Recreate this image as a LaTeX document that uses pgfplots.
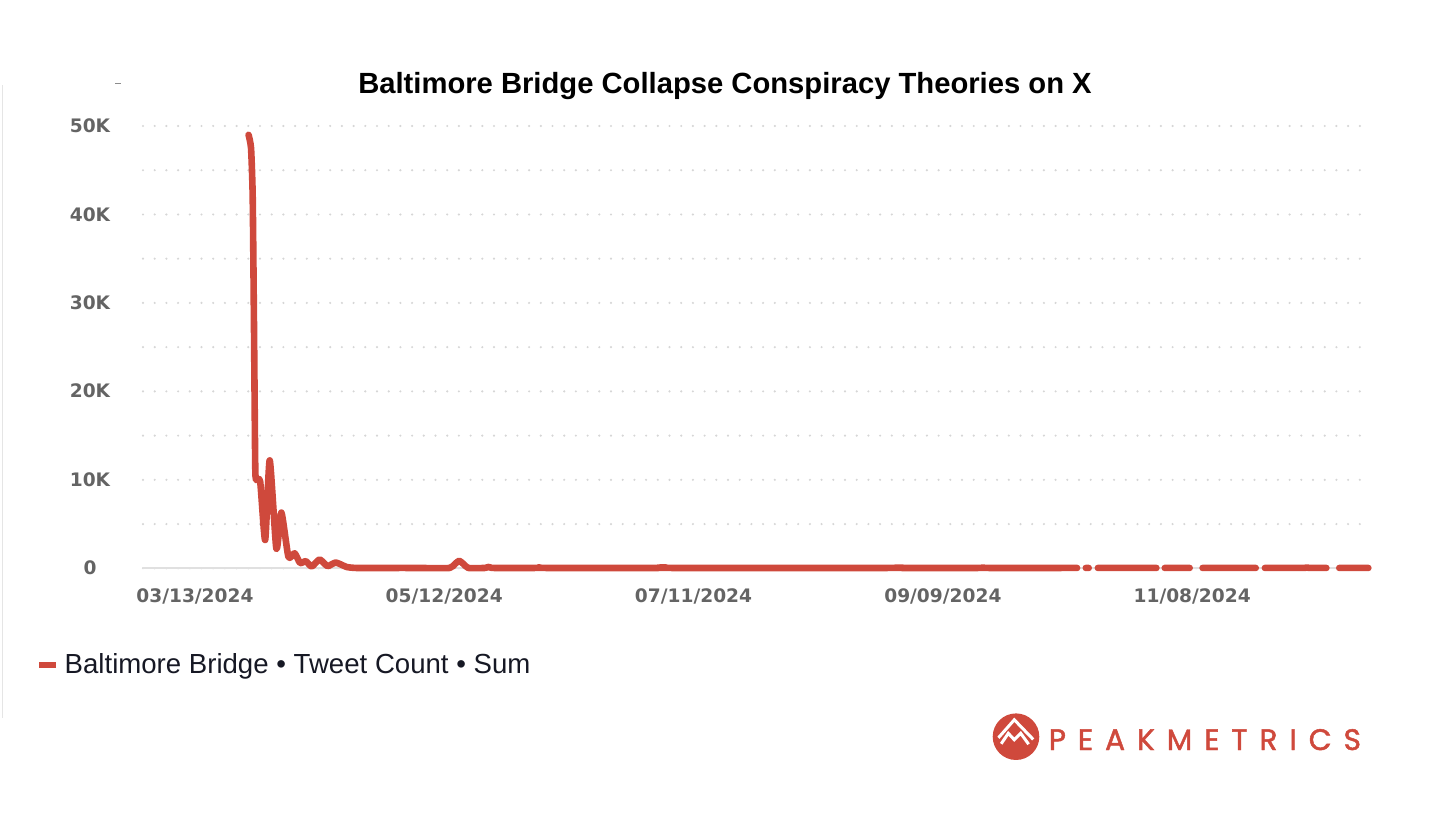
\documentclass[border=0pt]{standalone}
\usepackage{fontspec}
\usepackage{pgfplots}
\pgfplotsset{compat=1.18}
\newfontfamily\tickfont{DejaVu Sans}
\newfontfamily\titlefont{Liberation Sans}
\newfontfamily\legendfont{Liberation Sans}
\newfontfamily\logofont{Poppins}[FakeBold=1.6]
\definecolor{linered}{RGB}{207,73,60}
\definecolor{tickgray}{RGB}{100,100,100}
\definecolor{legtext}{RGB}{22,24,36}
\newcommand\ls{\kern 6.0bp}
\begin{document}
\begin{tikzpicture}
\path[use as bounding box] (0,0) rectangle (728bp,409.5bp);
% faint screenshot border
\draw[black!10, line width=0.8bp] (1.2bp,367bp) -- (1.2bp,50.5bp);
\draw[black!45, line width=0.5bp] (57.5bp,367.5bp) -- (60.3bp,367.5bp);
% title
\node[anchor=base, inner sep=0pt] at (362.5bp,362.85bp) {\titlefont\bfseries\fontsize{14.6bp}{16bp}\selectfont Baltimore Bridge Collapse Conspiracy Theories on X};
\begin{axis}[
  at={(71.5bp,125.35bp)}, anchor=south west,
  scale only axis, width=613.5bp, height=221.15bp,
  xmin=-12.5, xmax=282.8, ymin=0, ymax=50000,
  clip=false,
  axis line style={draw=none},
  major tick length=0pt, minor tick length=0pt,
  xtick={0,60,120,180,240},
  xticklabels={03/13/2024,05/12/2024,07/11/2024,09/09/2024,11/08/2024},
  ytick={0,10000,20000,30000,40000,50000},
  yticklabels={0,10K,20K,30K,40K,50K},
  minor ytick={5000,15000,25000,35000,45000},
  scaled y ticks=false,
  ymajorgrids, yminorgrids,
  major grid style={line width=1.2bp, line cap=round, dash pattern=on 0pt off 5.85bp, color=black!16},
  minor grid style={line width=1.2bp, line cap=round, dash pattern=on 0pt off 5.85bp, color=black!16},
  extra y ticks={0}, extra y tick labels={},
  extra y tick style={major grid style={solid, line width=1bp, color=black!12}},
  xticklabel style={font=\tickfont\bfseries\fontsize{9.3bp}{10bp}\selectfont, text=tickgray, anchor=base, yshift=-17bp},
  yticklabel style={font=\tickfont\bfseries\fontsize{9.3bp}{10bp}\selectfont, text=tickgray, anchor=base, xshift=-26.5bp, yshift=-3.3bp},
  legend style={at={(-0.0853,-0.2186)}, anchor=west, draw=none, fill=none, inner sep=0pt,
    font=\legendfont\fontsize{13.8bp}{15bp}\selectfont, text=legtext},
  legend image code/.code={\fill[#1, draw=none] (0bp,-1.42bp) rectangle (8.5bp,1.42bp); \path[draw=none, fill=none] (0bp,0bp) -- (11bp,0bp);},
]
\addplot[color=linered, line width=3.3bp, line cap=round, line join=round, smooth, tension=0.35] coordinates {
(12.9,49000) (13.5,47500) (13.9,42000) (14.2,28000) (14.5,12000) (14.7,10000)
(15.7,9800) (16.9,3200) (18.0,12200) (19.6,2200) (20.8,6300) (22.5,1300)
(24.0,1700) (25.3,600) (26.7,800) (28.1,200) (30.0,1000) (31.9,250)
(33.9,650) (36.5,150) (38.7,40) (42,30) (50,40) (55,30) (61.3,40)
(62.6,500) (63.6,850) (64.6,500) (65.8,40) (69.8,40) (70.8,170) (71.8,40)
(82,40) (83,110) (84,40) (112,40) (113,110) (114,40) (168,40) (168.8,80)
(169.6,40) (189,40) (189.7,80) (190.4,40) (212.3,40)
};
\addlegendentry{Baltimore Bridge • Tweet Count • Sum}
\addplot[forget plot, color=linered, line width=3.3bp, line cap=round, line join=round, unbounded coords=jump] coordinates {
(214.4,40) (215.1,40) (215.5,nan)
(217.3,40) (231.4,40) (232,nan)
(233.4,40) (239.4,40) (240,nan)
(242.5,40) (255.3,40) (256,nan)
(257.5,40) (267,40) (267.6,90) (268.2,40) (272.3,40) (273,nan)
(275.4,40) (282.4,40)
};
\end{axis}
% logo
\fill[linered] (508bp,41.15bp) circle (11.65bp);
\draw[white, line width=1.5bp, line join=miter] (499.2bp,40.6bp) -- (507.15bp,49.6bp) -- (516.6bp,39.8bp);
\draw[white, line width=1.5bp, line join=miter] (500.6bp,37.6bp) -- (504.15bp,42.85bp) -- (507.15bp,39.6bp) -- (510.35bp,42.85bp) -- (514.3bp,37.4bp);
\node[anchor=base west, inner sep=0pt, text=linered] at (524.2bp,34.5bp) {\logofont\fontsize{14.8bp}{16bp}\selectfont P\ls E\ls A\ls K\ls M\ls E\ls T\ls R\ls I\ls C\ls S};
\end{tikzpicture}
\end{document}
